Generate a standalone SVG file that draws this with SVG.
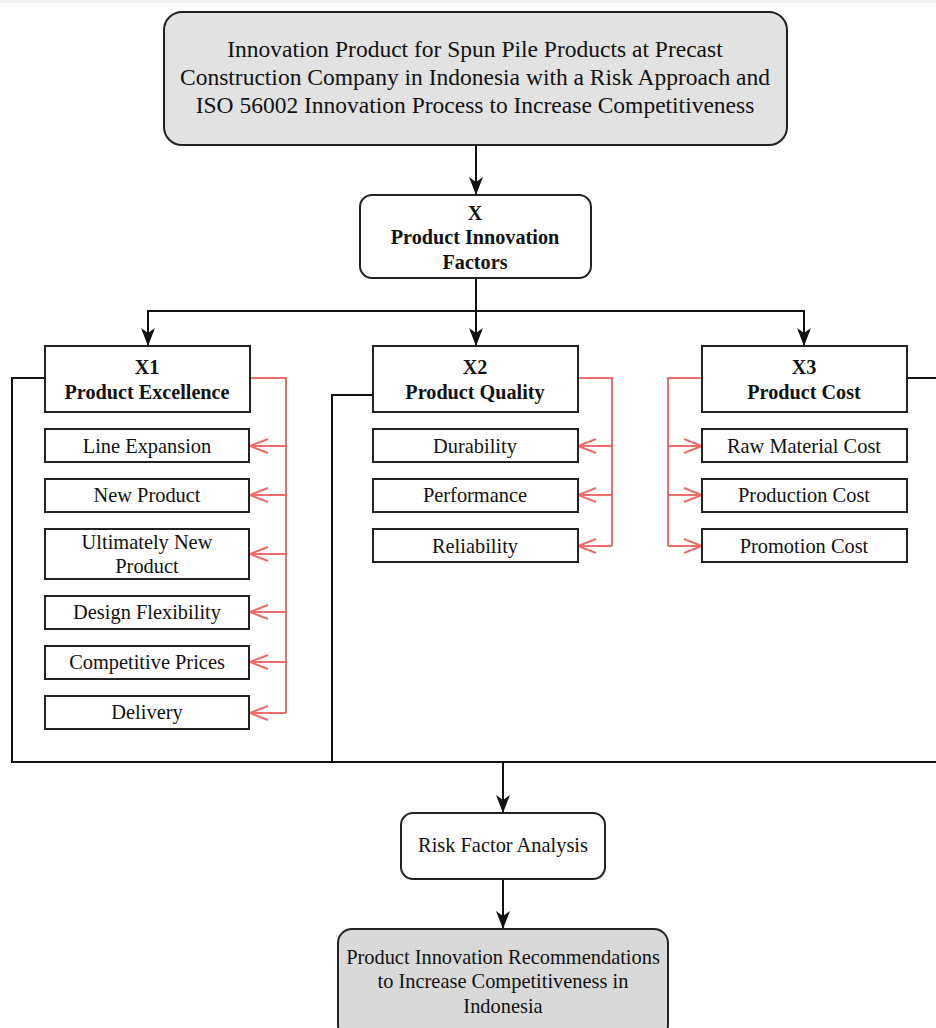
<svg xmlns="http://www.w3.org/2000/svg" width="936" height="1028" viewBox="0 0 936 1028">
<defs>
<style>
.box{fill:#fff;stroke:#222;stroke-width:2}
.gray{fill:#e2e2e2;stroke:#222;stroke-width:2}
.gray2{fill:#d9d9d9;stroke:#222;stroke-width:2}
text{font-family:"Liberation Serif","Times New Roman",serif;fill:#111;text-anchor:middle;dominant-baseline:central}
.t{font-size:20.4px}
.tt{font-size:23.5px}
.b{font-size:20.2px;font-weight:bold}
.blk{fill:none;stroke:#111;stroke-width:2}
.red{fill:none;stroke:#ef6c6c;stroke-width:2}
</style>
<marker id="ah" markerUnits="userSpaceOnUse" markerWidth="18" markerHeight="14" viewBox="0 0 18 14" refX="18" refY="7" orient="auto">
<path d="M0,0 L18,7 L0,14 L5,7 Z" fill="#111"/>
</marker>
<marker id="ro" markerUnits="userSpaceOnUse" markerWidth="22" markerHeight="18" viewBox="-2 -2 22 18" refX="18" refY="7" orient="auto">
<path d="M0,0 L18,7 L0,14" fill="none" stroke="#ef6c6c" stroke-width="2"/>
</marker>
</defs>
<rect width="936" height="1028" fill="#fff"/>
<rect width="936" height="3" fill="#f2f2f2"/>

<g id="connectors">
<path class="blk" d="M476,145 V195" marker-end="url(#ah)"/>
<path class="blk" d="M476,278 V346" marker-end="url(#ah)"/>
<path class="blk" d="M148,346 V311 H804 V346" marker-end="url(#ah)"/>
<path class="blk" d="M148,311 V346" marker-end="url(#ah)"/>
<path class="blk" d="M45,378 H12 V762 H936"/>
<path class="blk" d="M373,395 H332 V762"/>
<path class="blk" d="M907,378 H936"/>
<path class="blk" d="M503,762 V813" marker-end="url(#ah)"/>
<path class="blk" d="M503,879 V929" marker-end="url(#ah)"/>
<path class="red" d="M250,378 H286 V713"/>
<path class="red" d="M286,446 H250" marker-end="url(#ro)"/>
<path class="red" d="M286,495 H250" marker-end="url(#ro)"/>
<path class="red" d="M286,554 H250" marker-end="url(#ro)"/>
<path class="red" d="M286,612 H250" marker-end="url(#ro)"/>
<path class="red" d="M286,662 H250" marker-end="url(#ro)"/>
<path class="red" d="M286,713 H250" marker-end="url(#ro)"/>
<path class="red" d="M578,378 H612 V546"/>
<path class="red" d="M612,446 H578" marker-end="url(#ro)"/>
<path class="red" d="M612,495 H578" marker-end="url(#ro)"/>
<path class="red" d="M612,546 H578" marker-end="url(#ro)"/>
<path class="red" d="M702,378 H668 V546"/>
<path class="red" d="M668,446 H702" marker-end="url(#ro)"/>
<path class="red" d="M668,495 H702" marker-end="url(#ro)"/>
<path class="red" d="M668,546 H702" marker-end="url(#ro)"/>
</g>

<g id="title">
<rect class="gray" x="164" y="12" width="623" height="133" rx="18"/>
<text class="tt" x="475" y="49">Innovation Product for Spun Pile Products at Precast</text>
<text class="tt" x="475" y="77">Construction Company in Indonesia with a Risk Approach and</text>
<text class="tt" x="475" y="105">ISO 56002 Innovation Process to Increase Competitiveness</text>
</g>

<g id="x">
<rect class="box" x="360" y="195" width="231" height="83" rx="12"/>
<text class="b" x="475" y="213">X</text>
<text class="b" x="475" y="237">Product Innovation</text>
<text class="b" x="475" y="262">Factors</text>
</g>

<g id="x1">
<rect class="box" x="45" y="346" width="205" height="66"/>
<text class="b" x="147" y="367">X1</text>
<text class="b" x="147" y="392">Product Excellence</text>
</g>
<g id="x2">
<rect class="box" x="373" y="346" width="205" height="66"/>
<text class="b" x="475" y="367">X2</text>
<text class="b" x="475" y="392">Product Quality</text>
</g>
<g id="x3">
<rect class="box" x="702" y="346" width="205" height="66"/>
<text class="b" x="804" y="367">X3</text>
<text class="b" x="804" y="392">Product Cost</text>
</g>

<g id="x1-line-expansion"><rect class="box" x="45" y="429" width="204" height="33"/><text class="t" x="147" y="446">Line Expansion</text></g>
<g id="x1-new-product"><rect class="box" x="45" y="479" width="204" height="33"/><text class="t" x="147" y="495">New Product</text></g>
<g id="x1-ultimately"><rect class="box" x="45" y="529" width="204" height="50"/><text class="t" x="147" y="542">Ultimately New</text><text class="t" x="147" y="566">Product</text></g>
<g id="x1-design"><rect class="box" x="45" y="596" width="204" height="33"/><text class="t" x="147" y="612">Design Flexibility</text></g>
<g id="x1-prices"><rect class="box" x="45" y="646" width="204" height="33"/><text class="t" x="147" y="662">Competitive Prices</text></g>
<g id="x1-delivery"><rect class="box" x="45" y="696" width="204" height="33"/><text class="t" x="147" y="712">Delivery</text></g>

<g id="x2-durability"><rect class="box" x="373" y="429" width="205" height="33"/><text class="t" x="475" y="446">Durability</text></g>
<g id="x2-performance"><rect class="box" x="373" y="479" width="205" height="33"/><text class="t" x="475" y="495">Performance</text></g>
<g id="x2-reliability"><rect class="box" x="373" y="529" width="205" height="33"/><text class="t" x="475" y="546">Reliability</text></g>

<g id="x3-raw"><rect class="box" x="702" y="429" width="205" height="33"/><text class="t" x="804" y="446">Raw Material Cost</text></g>
<g id="x3-production"><rect class="box" x="702" y="479" width="205" height="33"/><text class="t" x="804" y="495">Production Cost</text></g>
<g id="x3-promotion"><rect class="box" x="702" y="529" width="205" height="33"/><text class="t" x="804" y="546">Promotion Cost</text></g>

<g id="risk">
<rect class="box" x="401" y="813" width="204" height="66" rx="12"/>
<text class="t" x="503" y="845">Risk Factor Analysis</text>
</g>

<g id="recommend">
<rect class="gray2" x="338" y="929" width="330" height="110" rx="14"/>
<text class="t" x="503" y="957">Product Innovation Recommendations</text>
<text class="t" x="503" y="981">to Increase Competitiveness in</text>
<text class="t" x="503" y="1006">Indonesia</text>
</g>
</svg>
